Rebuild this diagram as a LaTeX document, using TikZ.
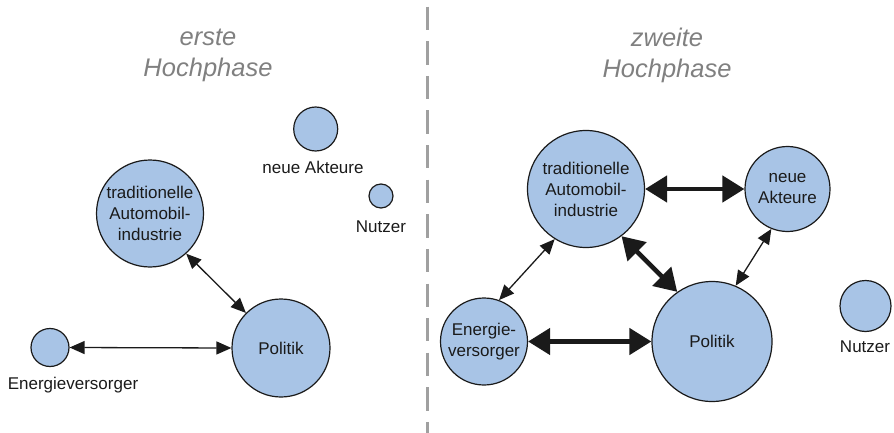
\documentclass[tikz,border=0pt]{standalone}
\usepackage{fontspec}
\setmainfont{Liberation Sans}
\usetikzlibrary{arrows.meta}
\definecolor{actorfill}{RGB}{168,196,230}
\definecolor{inkc}{RGB}{26,26,26}
\definecolor{titlegray}{RGB}{128,128,128}
\definecolor{dashgray}{RGB}{160,160,160}
\begin{document}
\begin{tikzpicture}[x=1pt,y=-1pt,
  actor/.style={circle,draw=inkc,line width=1.2pt,fill=actorfill,inner sep=0pt,
    align=center,text=inkc,font=\fontsize{17}{21}\selectfont},
  lbl/.style={inner sep=0pt,text=inkc,font=\fontsize{17}{21}\selectfont},
  ttl/.style={inner sep=0pt,align=center,text=titlegray,font=\fontsize{25.5}{31}\selectfont\itshape},
  thinarrow/.style={draw=inkc,line width=1.3pt,{Triangle[length=15pt,width=13pt]}-{Triangle[length=15pt,width=13pt]}},
  thickarrow/.style={draw=inkc,line width=4.5pt,{Triangle[length=22pt,width=26pt]}-{Triangle[length=22pt,width=26pt]}}
]
\useasboundingbox (0,0) rectangle (894,433);
% divider
\coordinate (dtop) at (427.5,6.7);
\coordinate (dbot) at (427.5,433);
\draw[dashgray,line width=2.5pt,dash pattern=on 23.3pt off 11.3pt] (dtop) -- (dbot);
% titles
\node[ttl] (t1) at (208,55) {erste\\Hochphase};
\node[ttl] (t2) at (667,55) {zweite\\Hochphase};
% left side
\node[actor,minimum size=107pt] (trad1) at (150,213.5) {traditionelle\\Automobil-\\industrie};
\node[actor,minimum size=98pt] (pol1) at (281,348) {Politik};
\node[actor,minimum size=38pt] (en1) at (50,347.5) {};
\node[lbl] (en1l) at (73,385) {Energieversorger};
\node[actor,minimum size=44pt] (neu1) at (315.7,129) {};
\node[lbl] (neu1l) at (313,167) {neue Akteure};
\node[actor,minimum size=24pt] (nu1) at (381,196) {};
\node[lbl] (nu1l) at (381,227) {Nutzer};
\draw[thinarrow] (trad1.-48.7) -- (pol1.135);
\draw[thinarrow] (en1.east) -- (pol1.west);
% right side
\node[actor,minimum size=117pt] (trad2) at (586,189) {traditionelle\\Automobil-\\industrie};
\node[actor,minimum size=85pt] (neu2) at (787.5,189) {neue\\Akteure};
\node[actor,minimum size=87pt] (en2) at (484,341.5) {Energie-\\versorger};
\node[actor,minimum size=120pt] (pol2) at (712,341.5) {Politik};
\node[actor,minimum size=51pt] (nu2) at (865.5,306) {};
\node[lbl] (nu2l) at (865,347) {Nutzer};
\draw[thickarrow] (trad2.east) -- (neu2.west);
\draw[thickarrow] (en2.east) -- (pol2.west);
\draw[thickarrow] (trad2.-53) -- (pol2.125);
\draw[thinarrow] (trad2.-122) -- (en2.70);
\draw[thinarrow] (neu2.-112) -- (pol2.67);
\end{tikzpicture}
\end{document}
